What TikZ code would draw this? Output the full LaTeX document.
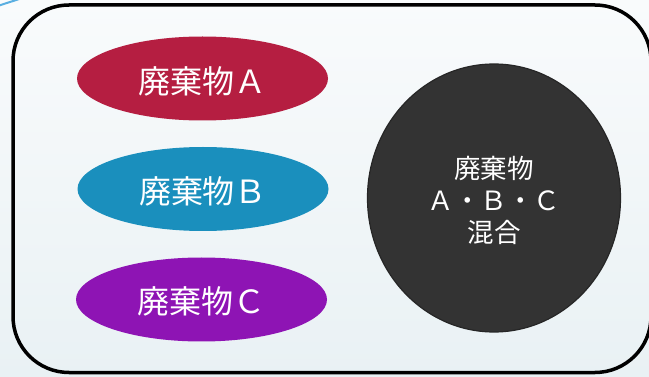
\documentclass[tikz,border=0pt]{standalone}
\usepackage{fontspec}
\setmainfont{Noto Sans CJK JP}
\newfontfamily\jpfont{Noto Sans CJK JP}
\usetikzlibrary{shapes.geometric}
\definecolor{wasteA}{RGB}{181,30,65}
\definecolor{wasteB}{RGB}{26,143,189}
\definecolor{wasteC}{RGB}{142,20,180}
\definecolor{mixdark}{RGB}{51,51,51}
\definecolor{bgtop}{RGB}{249,251,252}
\definecolor{bgbot}{RGB}{233,241,244}
\definecolor{edgeblue}{RGB}{90,175,225}
\newcommand\lowertext[2]{\raisebox{-#1}[\height][\depth]{#2}}
\tikzset{
  waste/.style={ellipse, draw=none, inner sep=0pt, minimum width=251pt, minimum height=84pt,
    text=white, font=\jpfont\fontsize{32}{36}\selectfont},
  mixnode/.style={ellipse, fill=mixdark, draw=black!85, line width=1.2pt, inner sep=0pt,
    minimum width=253pt, minimum height=268pt, text=white, align=center,
    font=\jpfont\fontsize{26.5}{32}\selectfont},
  frame/.style={draw=black, line width=3.5pt, rounded corners=56pt}
}
\begin{document}
\begin{tikzpicture}[x=1pt,y=-1pt]
\useasboundingbox (0,0) rectangle (649,377);
\shade[top color=bgtop, bottom color=bgbot] (0,0) rectangle (649,377);
\draw[edgeblue, line width=2pt] (-2,6) .. controls (6,3) and (14,1) .. (22,-2);
\draw[frame] (13,5) rectangle (651,372.5);
\node[waste, fill=wasteA] (a) at (202.5,78.5) {\lowertext{2.5pt}{廃棄物Ａ}};
\node[waste, fill=wasteB] (b) at (203,189) {\lowertext{2pt}{廃棄物Ｂ}};
\node[waste, fill=wasteC] (c) at (201.5,299.5) {\lowertext{2pt}{廃棄物Ｃ}};
\node[mixnode] (m) at (494,198) {\lowertext{6pt}{\begin{tabular}{@{}c@{}}廃棄物\\Ａ・Ｂ・Ｃ\\混合\end{tabular}}};
\end{tikzpicture}
\end{document}
